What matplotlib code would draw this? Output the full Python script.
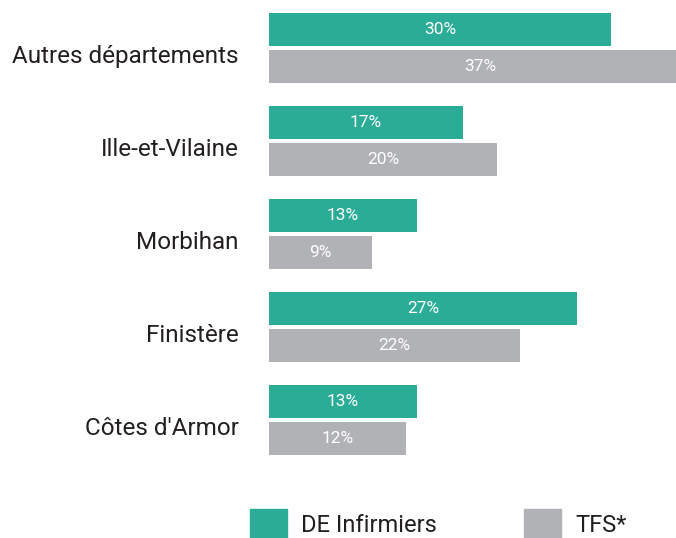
import matplotlib.pyplot as plt
import matplotlib.transforms as mtransforms
from matplotlib.patches import Patch

# data
categories = ["Autres départements", "Ille-et-Vilaine", "Morbihan", "Finistère", "Côtes d'Armor"]
de_infirmiers = [30, 17, 13, 27, 13]
tfs = [37, 20, 9, 22, 12]
series_names = ["DE Infirmiers", "TFS*"]

GREEN = "#2aac97"
GREY = "#b1b2b5"
TEXT = "#231f20"

plt.rcParams["font.family"] = ["Roboto", "DejaVu Sans"]

W, H = 676, 538
fig = plt.figure(figsize=(W / 100, H / 100), dpi=100)
# axes spans from x=269 to the right edge, full height
ax = fig.add_axes([269 / W, 0, 1 - 269 / W, 1])

px_per_pct = 11.4
pitch = 93.0
ax.set_xlim(0, (W - 269) / px_per_pct)
ax.set_ylim((H - 48) / pitch, -48 / pitch)

h = 33.5 / pitch
off = 18.5 / pitch
ypos = list(range(len(categories)))

b1 = ax.barh([y - off for y in ypos], de_infirmiers, height=h, color=GREEN)
b2 = ax.barh([y + off for y in ypos], tfs, height=h, color=GREY)

for bars, vals in ((b1, de_infirmiers), (b2, tfs)):
    for bar, v in zip(bars, vals):
        ax.text(v / 2, bar.get_y() + bar.get_height() / 2, f"{v}%",
                ha="center", va="center", color="white", fontsize=12.5)

ax.set_yticks(ypos)
ax.set_yticklabels(categories, fontsize=17.5, color=TEXT)
ax.tick_params(axis="y", length=0, pad=22)
shift = mtransforms.ScaledTranslation(0, -6 / 100, fig.dpi_scale_trans)
for lbl in ax.get_yticklabels():
    lbl.set_transform(lbl.get_transform() + shift)
ax.set_xticks([])
for s in ax.spines.values():
    s.set_visible(False)

handles = [Patch(color=GREEN), Patch(color=GREY)]
fig.legend(handles, series_names, loc="lower left", bbox_to_anchor=(229 / W, -0.04),
           ncol=2, frameon=False, fontsize=17, handlelength=1.55, handleheight=1.5,
           handletextpad=0.6, columnspacing=3.7, labelcolor=TEXT)

fig.savefig("out.png", dpi=100)
